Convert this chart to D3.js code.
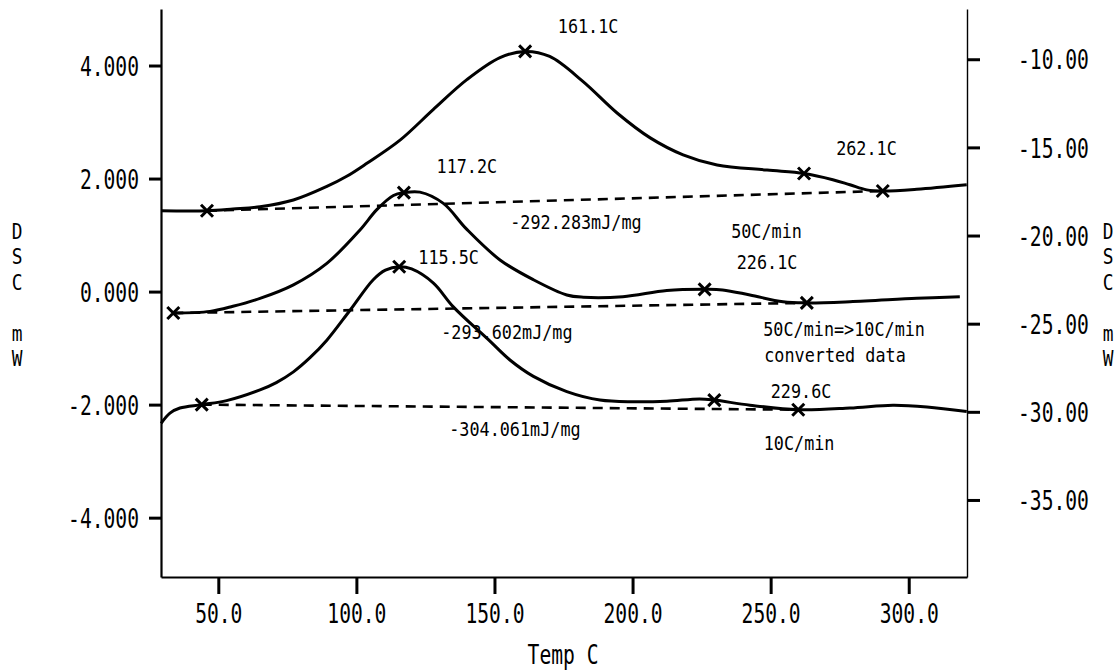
<!DOCTYPE html>
<html>
<head>
<meta charset="utf-8">
<script src="https://cdn.jsdelivr.net/npm/d3@7"></script>
<style>
  body { margin: 0; background: #fff; }
  svg { display: block; }
</style>
</head>
<body>
<div id="chart"></div>
<script>
// DSC traces: [temperature C, heat flow mW]
var curve50 = [
  [29.3, 1.43], [45.9, 1.43], [55.3, 1.46], [65.1, 1.50], [77.2, 1.62], [89.3, 1.86],
  [96.5, 2.04], [103.8, 2.27], [115.8, 2.68], [127.8, 3.22], [140.0, 3.75], [152.0, 4.14],
  [161.1, 4.25], [170.0, 4.16], [182.0, 3.72], [194.4, 3.16], [206.4, 2.72], [218.3, 2.42],
  [230.6, 2.24], [248.7, 2.15], [262.1, 2.09], [272.5, 1.98], [278.7, 1.89], [284.8, 1.80],
  [290.6, 1.78], [302.9, 1.81], [321.0, 1.89]
];
var curveConv = [
  [33.7, -0.38], [47.0, -0.35], [55.3, -0.26], [65.1, -0.12], [77.2, 0.12], [89.3, 0.50],
  [101.3, 1.09], [107.4, 1.45], [113.4, 1.70], [117.2, 1.75], [123.0, 1.76], [131.5, 1.56],
  [140.0, 1.10], [152.0, 0.56], [164.1, 0.21], [176.2, -0.06], [182.2, -0.10], [196.5, -0.09],
  [212.4, 0.02], [226.1, 0.04], [232.6, 0.03], [242.5, -0.06], [254.5, -0.18], [263.1, -0.20],
  [278.7, -0.18], [302.9, -0.12], [318.5, -0.09]
];
var curve10 = [
  [29.3, -2.33], [32.5, -2.15], [36.1, -2.06], [44.0, -2.00], [53.0, -1.93], [65.1, -1.74],
  [71.0, -1.61], [77.2, -1.42], [83.2, -1.17], [89.3, -0.86], [97.7, -0.33], [106.1, 0.21],
  [110.5, 0.38], [115.5, 0.44], [120.0, 0.40], [127.9, 0.15], [135.1, -0.27], [147.8, -0.85],
  [155.6, -1.21], [164.1, -1.50], [176.2, -1.77], [188.2, -1.92], [200.3, -1.95], [212.4, -1.94],
  [224.3, -1.90], [229.6, -1.92], [242.5, -2.01], [260.0, -2.09], [278.7, -2.06], [294.3, -2.01],
  [306.6, -2.04], [321.0, -2.12]
];

// peak / baseline markers (first and last are the baseline ends)
var markers50 = [[45.9, 1.43], [161.1, 4.25], [262.1, 2.09], [290.6, 1.78]];
var markersConv = [[33.7, -0.38], [117.2, 1.75], [226.1, 0.04], [263.1, -0.20]];
var markers10 = [[44.0, -2.00], [115.5, 0.44], [229.6, -1.92], [260.0, -2.09]];

var noteText = ['161.1C', '117.2C', '-292.283mJ/mg', '50C/min', '262.1C', '115.5C', '226.1C',
  '-293.602mJ/mg', '50C/min=>10C/min', 'converted data', '229.6C', '-304.061mJ/mg', '10C/min'];
var noteAt = [[183.9, 4.71], [140.0, 2.23], [179.5, 1.24], [248.5, 1.07], [284.7, 2.55],
  [133.4, 0.61], [248.7, 0.52], [154.5, -0.72], [276.6, -0.65], [273.3, -1.12], [261.0, -1.75],
  [157.4, -2.43], [260.3, -2.67]];

var tempTicks = [50, 100, 150, 200, 250, 300];
var leftTicks = [-4, -2, 0, 2, 4];
var rightTicks = [-35, -30, -25, -20, -15, -10];
var sideLabel = ['D', 'S', 'C', ' ', 'm', 'W'];

var width = 1118, height = 671;
var mono = '"DejaVu Sans Mono", "Liberation Mono", monospace';
var bigSize = 27, bigSqueeze = 0.727;
var smallSize = 20, smallSqueeze = 0.84;

var x = d3.scaleLinear().domain([29.25, 321.1]).range([161, 967]);
var y = d3.scaleLinear().domain([-5.05, 5.0]).range([577, 9]);
var y2 = d3.scaleLinear().domain([-39.37, -7.15]).range([577, 9]);

var fmt = function (f) {
  return function (d) { return d3.format(f)(d).replace('\u2212', '-'); };
};
var squeeze = function (dx, dy, s) {
  return 'translate(' + dx + ',' + dy + ') scale(' + s + ',1)';
};

var svg = d3.select('#chart').append('svg')
    .attr('width', width)
    .attr('height', height)
    .style('background', '#fff');

var styleAxis = function (g, lineW, tickW) {
  g.attr('font-family', mono).attr('font-size', bigSize);
  g.select('.domain').attr('stroke', '#000').attr('stroke-width', lineW);
  g.selectAll('.tick line').attr('stroke', '#000').attr('stroke-width', tickW);
  g.selectAll('.tick text').attr('fill', '#000');
};

// left axis
var gLeft = svg.append('g').attr('transform', 'translate(161,0)')
    .call(d3.axisLeft(y).tickValues(leftTicks).tickFormat(fmt('.3f')).tickSize(12).tickSizeOuter(0));
styleAxis(gLeft, 2.2, 3);
gLeft.selectAll('.tick text').attr('x', 0).attr('dy', '0.36em')
    .attr('transform', squeeze(-22, 0, bigSqueeze));

// right axis
var gRight = svg.append('g').attr('transform', 'translate(967,0)')
    .call(d3.axisRight(y2).tickValues(rightTicks).tickFormat(fmt('.2f')).tickSize(13).tickSizeOuter(0));
styleAxis(gRight, 1.4, 3);
gRight.selectAll('.tick text').attr('x', 0).attr('dy', '0.36em')
    .attr('transform', squeeze(51, 0, bigSqueeze));

// bottom axis
var gBottom = svg.append('g').attr('transform', 'translate(0,577)')
    .call(d3.axisBottom(x).tickValues(tempTicks).tickFormat(fmt('.1f')).tickSize(17).tickSizeOuter(0));
styleAxis(gBottom, 1.8, 3);
gBottom.selectAll('.tick text').attr('y', 0).attr('dy', '0.36em')
    .attr('transform', squeeze(0, 36, bigSqueeze));

// axis titles
svg.append('text')
    .attr('transform', squeeze(563, 664, bigSqueeze))
    .attr('text-anchor', 'middle')
    .attr('font-family', mono).attr('font-size', bigSize)
    .text('Temp C');

// stacked "DSC mW" letters on both sides (smaller size so the line boxes don't collide)
[17, 1108].forEach(function (cx) {
  svg.selectAll(null).data(sideLabel).enter().append('text')
      .attr('transform', function (d, i) { return squeeze(cx, 231 + i * 25.5, 0.85); })
      .attr('dy', '0.36em')
      .attr('text-anchor', 'middle')
      .attr('font-family', mono).attr('font-size', 21)
      .text(function (d) { return d; });
});

var line = d3.line()
    .x(function (d) { return x(d[0]); })
    .y(function (d) { return y(d[1]); })
    .curve(d3.curveCatmullRom.alpha(0.5));

var straight = d3.line()
    .x(function (d) { return x(d[0]); })
    .y(function (d) { return y(d[1]); });

var series = [
  { pts: curve50, marks: markers50 },
  { pts: curveConv, marks: markersConv },
  { pts: curve10, marks: markers10 }
];

series.forEach(function (s) {
  var base = [s.marks[0], s.marks[s.marks.length - 1]];
  svg.append('path')
      .attr('d', straight(base))
      .attr('fill', 'none')
      .attr('stroke', '#000')
      .attr('stroke-width', 2.6)
      .attr('stroke-dasharray', '10,7');

  svg.append('path')
      .attr('d', line(s.pts))
      .attr('fill', 'none')
      .attr('stroke', '#000')
      .attr('stroke-width', 3)
      .attr('stroke-linejoin', 'round');

  svg.selectAll(null).data(s.marks).enter().append('path')
      .attr('transform', function (d) { return 'translate(' + x(d[0]) + ',' + y(d[1]) + ')'; })
      .attr('d', 'M-6,-6L6,6M-6,6L6,-6')
      .attr('stroke', '#000')
      .attr('stroke-width', 3);
});

// annotations
svg.selectAll('text.note').data(noteText).enter().append('text')
    .attr('class', 'note')
    .attr('transform', function (d, i) { return squeeze(x(noteAt[i][0]), y(noteAt[i][1]), smallSqueeze); })
    .attr('dy', '0.36em')
    .attr('text-anchor', 'middle')
    .attr('font-family', mono).attr('font-size', smallSize)
    .attr('fill', '#000')
    .text(function (d) { return d; });
</script>
</body>
</html>
